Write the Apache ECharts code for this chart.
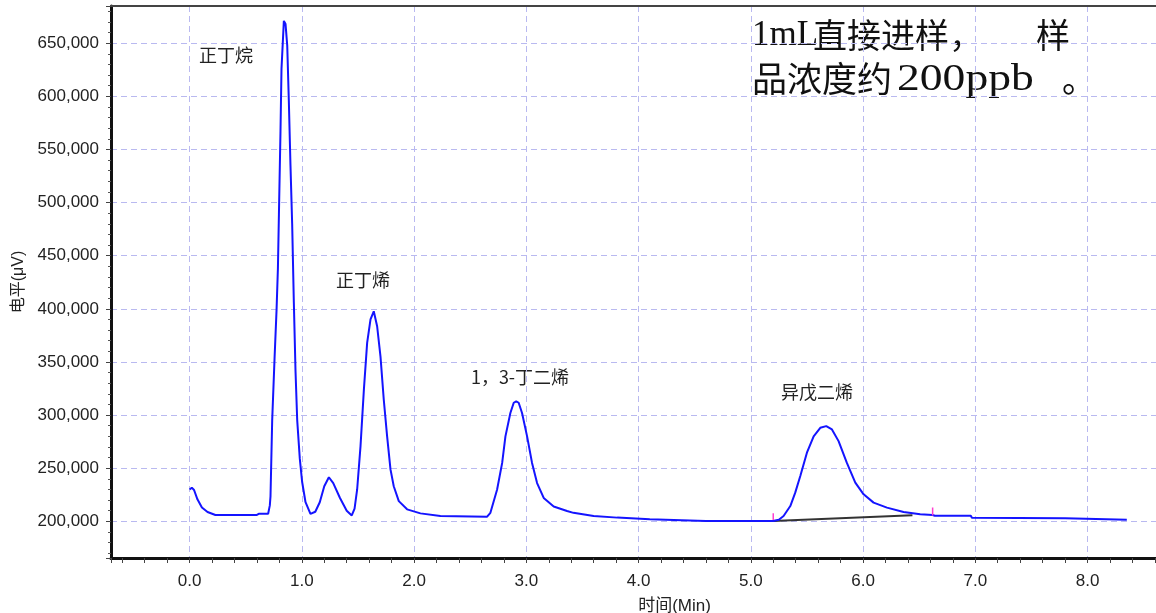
<!DOCTYPE html>
<html>
<head>
<meta charset="utf-8">
<title>色谱图</title>
<script src="https://cdn.jsdelivr.net/npm/echarts@6.0.0/dist/echarts.min.js"></script>
<style>
  html, body { margin: 0; padding: 0; background: #fff; overflow: hidden; }
  #chart { width: 1156px; height: 613px; }
</style>
</head>
<body>
<div id="chart"></div>
<script>
// 时间(Min) / 电平(μV)，从图上读出的点
const curve = [
  [0.00, 230000], [0.02, 231700], [0.04, 229500], [0.07, 220700], [0.11, 213000],
  [0.16, 208800], [0.23, 206000], [0.60, 206000], [0.62, 207200], [0.70, 207200],
  // 正丁烷
  [0.715, 215000], [0.721, 223500], [0.736, 295000], [0.757, 353000], [0.775, 399000],
  [0.787, 438000], [0.796, 489000], [0.810, 567000], [0.819, 626000], [0.840, 671000],
  [0.855, 668000], [0.870, 648000], [0.884, 597000], [0.899, 535000], [0.914, 480000],
  [0.929, 406000], [0.944, 341000], [0.959, 295000], [0.982, 259000], [1.003, 237000],
  [1.033, 218000], [1.077, 207000], [1.09, 206000],
  // 小峰
  [1.12, 209000], [1.16, 218000], [1.20, 233000], [1.241, 241500], [1.28, 236000],
  [1.34, 222000], [1.40, 210000], [1.445, 205500],
  // 正丁烯
  [1.47, 212000], [1.493, 230000], [1.523, 270800], [1.553, 324000], [1.582, 368000],
  [1.612, 390000], [1.641, 397700], [1.671, 383600], [1.701, 355000], [1.730, 314700],
  [1.760, 280000], [1.790, 248900], [1.819, 233000], [1.864, 219000], [1.938, 211300],
  [2.057, 207500], [2.235, 205000], [2.651, 204400],
  // 1,3-丁二烯
  [2.68, 208000], [2.74, 230000], [2.785, 255000], [2.814, 280000], [2.858, 302000],
  [2.888, 311600], [2.91, 313000], [2.932, 311600], [2.962, 302000], [3.007, 280000],
  [3.051, 255000], [3.096, 236000], [3.155, 222000], [3.244, 214000], [3.363, 209700],
  [3.42, 208000], [3.60, 205000], [3.81, 203500], [4.10, 201900], [4.60, 200400],
  [5.20, 200300],
  // 异戊二烯
  [5.25, 201500], [5.292, 205000], [5.352, 214400], [5.396, 227000], [5.441, 242600],
  [5.500, 264600], [5.560, 280000], [5.619, 288000], [5.672, 289600], [5.723, 286500],
  [5.782, 275500], [5.856, 255000], [5.931, 236400], [6.005, 225400], [6.094, 217600],
  [6.213, 212900], [6.361, 208800], [6.509, 206600], [6.62, 206000], [6.64, 205300],
  [6.96, 205300], [6.97, 203300], [7.80, 203000], [7.81, 201500], [8.35, 201500]
]
const baseline = [[5.20, 200300], [6.44, 205700]]
const markStart = [[5.20, 201200], [5.20, 207500]]
const markEnd = [[6.62, 205600], [6.62, 213000]]

const xTicks = [0, 1, 2, 3, 4, 5, 6, 7, 8]
const yTicks = [200000, 250000, 300000, 350000, 400000, 450000, 500000, 550000, 600000, 650000]
const xRange = [-0.7, 8.61]
const yRange = [165500, 685000]

const chart = echarts.init(document.getElementById('chart'))

const tickFont = { fontFamily: 'Liberation Sans, Arial, sans-serif', fontSize: 17, color: '#222' }
const gridLine = { color: '#b9b9f0', width: 1, type: [6, 4] }
const noteFont = '18px "Noto Sans CJK SC", sans-serif'
const cjkBig = '34px "Noto Sans CJK SC", serif'

const option = {
  animation: false,
  backgroundColor: '#fff',
  grid: { left: 111, right: 0, top: 6, bottom: 55, outerBoundsMode: 'none', containLabel: false },
  xAxis: [
    {
      type: 'value',
      min: xRange[0],
      max: xRange[1],
      minInterval: 1,
      maxInterval: 1,
      name: '时间(Min)',
      nameLocation: 'middle',
      nameGap: 40,
      nameTextStyle: { fontFamily: 'Liberation Sans, "Noto Sans CJK SC", sans-serif', fontSize: 17, color: '#222', padding: [0, 0, 0, 82] },
      axisLine: { onZero: false, lineStyle: { color: '#111', width: 3 } },
      axisTick: { length: 5, lineStyle: { color: '#444' } },
      minorTick: { show: true, splitNumber: 5, length: 5, lineStyle: { color: '#444' } },
      axisLabel: Object.assign({
        margin: 15,
        formatter: v => xTicks.includes(v) ? v.toFixed(1) : ''
      }, tickFont),
      splitLine: { show: true, showMinLine: false, showMaxLine: false, lineStyle: gridLine }
    },
    {
      type: 'value',
      position: 'top',
      min: xRange[0],
      max: xRange[1],
      axisLine: { onZero: false, lineStyle: { color: '#444', width: 2 } },
      axisTick: { show: false },
      axisLabel: { show: false },
      splitLine: { show: false }
    }
  ],
  yAxis: {
    type: 'value',
    min: yRange[0],
    max: yRange[1],
    minInterval: 50000,
    maxInterval: 50000,
    name: '电平(μV)',
    nameLocation: 'middle',
    nameRotate: 90,
    nameGap: 82,
    nameTextStyle: { fontFamily: 'Liberation Sans, "Noto Sans CJK SC", sans-serif', fontSize: 16, color: '#222' },
    axisLine: { show: true, onZero: false, lineStyle: { color: '#111', width: 3 } },
    axisTick: { show: true, length: 5, lineStyle: { color: '#444' } },
    minorTick: { show: true, splitNumber: 5, length: 3, lineStyle: { color: '#555' } },
    axisLabel: Object.assign({
      margin: 12,
      formatter: v => yTicks.includes(v) ? String(v).replace(/\B(?=(\d{3})+(?!\d))/g, ',') : ''
    }, tickFont),
    splitLine: { show: true, showMinLine: false, showMaxLine: false, lineStyle: gridLine }
  },
  series: [
    {
      type: 'line',
      data: baseline,
      showSymbol: false,
      lineStyle: { color: '#333', width: 2 },
      z: 2
    },
    {
      name: '信号',
      type: 'line',
      data: curve,
      showSymbol: false,
      lineStyle: { color: '#1414ff', width: 2 },
      z: 3
    },
    {
      type: 'line',
      data: markStart,
      showSymbol: false,
      lineStyle: { color: '#ff3fd0', width: 1.5 },
      z: 4
    },
    {
      type: 'line',
      data: markEnd,
      showSymbol: false,
      lineStyle: { color: '#ff3fd0', width: 1.5 },
      z: 4
    }
  ],
  graphic: [
    { type: 'text', x: 226, y: 55, style: { text: '正丁烷', font: noteFont, fill: '#222', align: 'center', verticalAlign: 'middle' } },
    { type: 'text', x: 363, y: 280, style: { text: '正丁烯', font: noteFont, fill: '#222', align: 'center', verticalAlign: 'middle' } },
    { type: 'text', x: 520, y: 377, style: { text: '1，3-丁二烯', font: noteFont, fill: '#222', align: 'center', verticalAlign: 'middle' } },
    { type: 'text', x: 817, y: 392, style: { text: '异戊二烯', font: noteFont, fill: '#222', align: 'center', verticalAlign: 'middle' } },
    // 右上角说明
    { type: 'text', x: 752, y: 36, style: { text: '1mL', font: '35px "Liberation Serif", serif', fill: '#111', verticalAlign: 'middle' } },
    { type: 'text', x: 813, y: 35, style: { text: '直接进样，', font: cjkBig, fill: '#111', verticalAlign: 'middle' } },
    { type: 'text', x: 1036, y: 35, style: { text: '样', font: cjkBig, fill: '#111', verticalAlign: 'middle' } },
    { type: 'text', x: 752, y: 79, style: { text: '品浓度约', font: '35px "Noto Sans CJK SC", serif', fill: '#111', verticalAlign: 'middle' } },
    { type: 'text', x: 897, y: 80, scaleX: 1.2, style: { text: '200ppb', font: '38px "Liberation Serif", serif', fill: '#111', verticalAlign: 'middle' } },
    { type: 'text', x: 1062, y: 79, style: { text: '。', font: cjkBig, fill: '#111', verticalAlign: 'middle' } }
  ]
}

chart.setOption(option)
</script>
</body>
</html>
